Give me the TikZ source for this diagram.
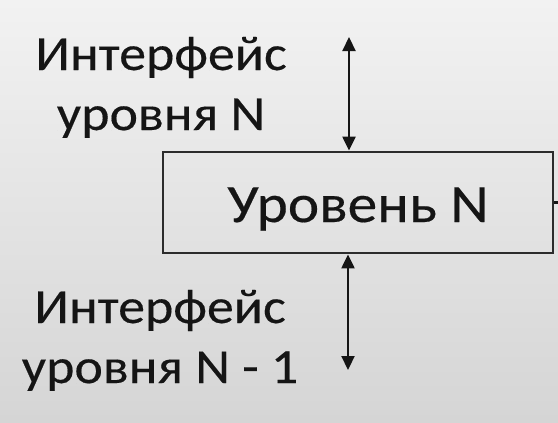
\documentclass[tikz,border=0pt]{standalone}
\usepackage{fontspec}
\setmainfont{Carlito}[FakeStretch=1.1,FakeBold=0.3]
\usetikzlibrary{arrows.meta}
\definecolor{bgtop}{HTML}{F2F2F2}
\definecolor{bgbot}{HTML}{D5D5D5}
\definecolor{ink}{HTML}{151515}
\tikzset{
  lbl/.style={align=center, inner sep=0pt, text=ink, font=\fontsize{49bp}{60bp}\selectfont, anchor=base},
  levelbox/.style={draw=ink!90, line width=2.8bp, minimum width=390bp, minimum height=101bp, inner sep=0pt,
     text height=39bp, text depth=0bp, text=ink, font=\fontsize{54bp}{60bp}\selectfont},
  iface/.style={draw=ink, line width=2.2bp, {Triangle[length=14bp,width=13bp]}-{Triangle[length=14bp,width=13bp]}},
  edge/.style={draw=ink, line width=2.4bp}
}
\begin{document}
\begin{tikzpicture}[x=1bp,y=-1bp]
  \shade[top color=bgtop, bottom color=bgbot] (0,0) rectangle (558,422);
  \useasboundingbox (0,0) rectangle (558,422);
  \node[lbl] (iN) at (161,130) {Интерфейс\\уровня N};
  \node[levelbox] (box) at (358,202.5) {Уровень N};
  \node[lbl] (iN1) at (160,383) {Интерфейс\\уровня N - 1};
  \coordinate (uptop) at (349,37);
  \coordinate (lowbot) at (348,370);
  \coordinate (rightend) at (560,202.5);
  \draw[iface] (uptop) -- (uptop |- box.north);
  \draw[iface] (lowbot |- box.south) -- (lowbot);
  \draw[edge] (box.east) -- (rightend);
\end{tikzpicture}
\end{document}
